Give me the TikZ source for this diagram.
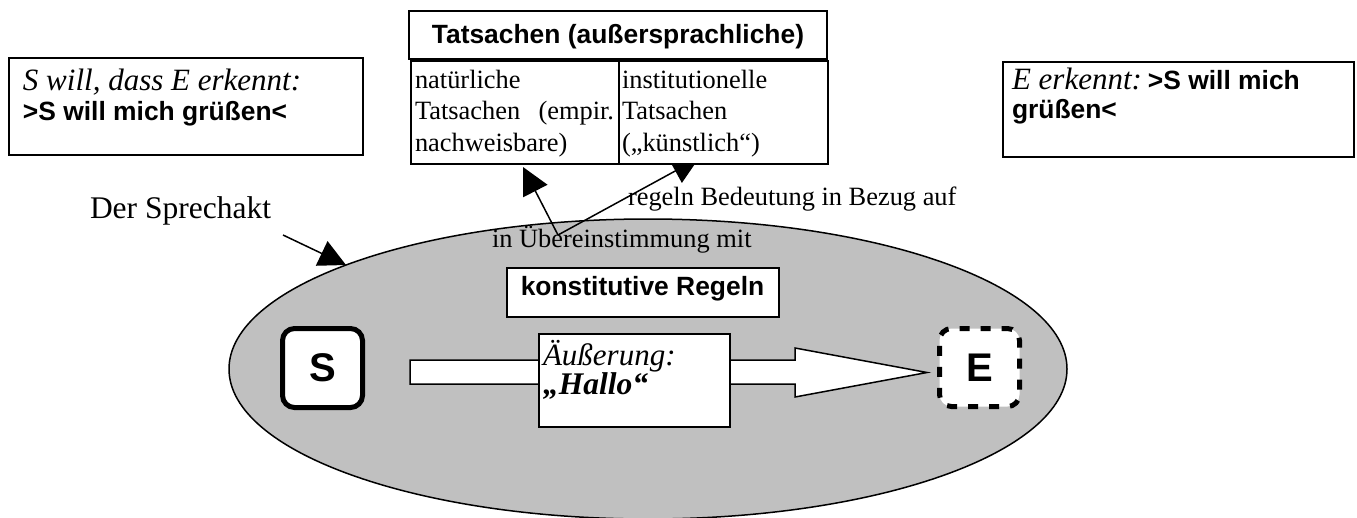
\documentclass[tikz,border=0pt]{standalone}
\usepackage{fontspec}
\setmainfont{Liberation Serif}
\newfontfamily\arialf{Liberation Sans}
\usetikzlibrary{arrows.meta,shapes.geometric}
\definecolor{ellgray}{HTML}{C0C0C0}
\begin{document}
\begin{tikzpicture}[x=1pt,y=-1pt,
  every node/.style={inner sep=0pt, outer sep=0pt},
  box/.style={draw=black, line width=2pt, fill=white},
  sfb/.style={font=\fontsize{26.4}{31}\selectfont\arialf\bfseries},
  rm/.style={font=\fontsize{26.4}{31}\selectfont},
  bigrm/.style={font=\fontsize{31.5}{36}\selectfont},
  bigit/.style={font=\fontsize{31}{36}\selectfont\itshape},
  bigbit/.style={font=\fontsize{31.5}{36}\selectfont\itshape\bfseries},
  letter/.style={font=\fontsize{40}{44}\selectfont\arialf\bfseries},
  ptr/.style={line width=1.5pt, -{Triangle[length=27pt,width=27pt]}},
]
\useasboundingbox (0,0) rectangle (1357,517);

% the speech act ellipse
\node[ellipse, draw=black, line width=1.5pt, fill=ellgray,
      minimum width=838pt, minimum height=300pt] (act) at (648,369) {};

% connectors from the constitutive rules to the facts
\coordinate (conv) at (558,235);
\coordinate (natTip) at (523,167);
\coordinate (instTip) at (699,158);
\draw[ptr] (conv) -- (natTip);
\draw[ptr] (conv) -- (instTip);

% Tatsachen table
\node[box, minimum width=418pt, minimum height=48pt] (facts) at (618,35) {};
\node[sfb, anchor=base] (factsT) at (618,43) {Tatsachen (außersprachliche)};
\node[box, minimum width=208pt, minimum height=103pt] (natcell) at (515,112.5) {};
\node[box, minimum width=209pt, minimum height=103pt] (instcell) at (723.5,112.5) {};
\node[rm, anchor=base west] (nat1) at (415,88) {natürliche};
\node[rm, anchor=base west] (nat2) at (415,119.5) {\makebox[199pt][l]{Tatsachen\hfill(empir.}};
\node[rm, anchor=base west] (nat3) at (415,151) {nachweisbare)};
\node[rm, anchor=base west] (inst1) at (622,88) {institutionelle};
\node[rm, anchor=base west] (inst2) at (622,119.5) {Tatsachen};
\node[rm, anchor=base west] (inst3) at (622,151) {(„künstlich“)};

% labels of the connectors
\node[rm, anchor=base west] (regelnL) at (628,205) {regeln Bedeutung in Bezug auf};
\node[rm, anchor=base west] (uebL) at (492,247) {in Übereinstimmung mit};

% left box
\node[box, minimum width=354pt, minimum height=97pt] (lbox) at (186,106.5) {};
\node[bigit, anchor=base west] (lbox1) at (23,90) {S will, dass E erkennt:};
\node[sfb, anchor=base west] (lbox2) at (23,120) {>S will mich grüßen<};

% right box
\node[box, minimum width=351pt, minimum height=95pt] (rbox) at (1178.5,109.5) {};
\node[anchor=base west] (rbox1) at (1012,89) {{\fontsize{31}{36}\selectfont\itshape E erkennt:}\hspace{6pt}{\fontsize{26.4}{31}\selectfont\arialf\bfseries >S will mich}};
\node[sfb, anchor=base west] (rbox2) at (1012,118) {grüßen<};

% Der Sprechakt
\node[bigrm, anchor=base west] (sprechakt) at (90,218) {Der Sprechakt};
\coordinate (saStart) at (283,235);
\draw[ptr] (saStart) -- (act.161.5);

% konstitutive Regeln
\node[box, minimum width=272pt, minimum height=49pt] (kr) at (643,292.5) {};
\node[sfb, anchor=base] (krT) at (642.5,295) {konstitutive Regeln};

% block arrow
\draw[fill=white, line width=1.5pt] (410,360) -- (795,360) -- (795,348) -- (927,372.5)
  -- (795,397) -- (795,384) -- (410,384) -- cycle;

% Äußerung box
\node[box, minimum width=191pt, minimum height=93pt] (aeu) at (634.5,380.5) {};
\node[bigit, anchor=base west] (aeu1) at (543,365) {Äußerung:};
\node[bigbit, anchor=base west] (aeu2) at (543,394) {„Hallo“};

% S and E
\node[letter, draw=black, line width=5pt, rounded corners=12pt, fill=white,
      minimum width=80pt, minimum height=79pt] (S) at (322.5,368) {S};
\node[letter, draw=black, line width=5pt, rounded corners=12pt, fill=white,
      dash pattern=on 10pt off 11pt, dash phase=4pt,
      minimum width=80pt, minimum height=78pt] (E) at (979.5,367.5) {E};
\end{tikzpicture}
\end{document}
